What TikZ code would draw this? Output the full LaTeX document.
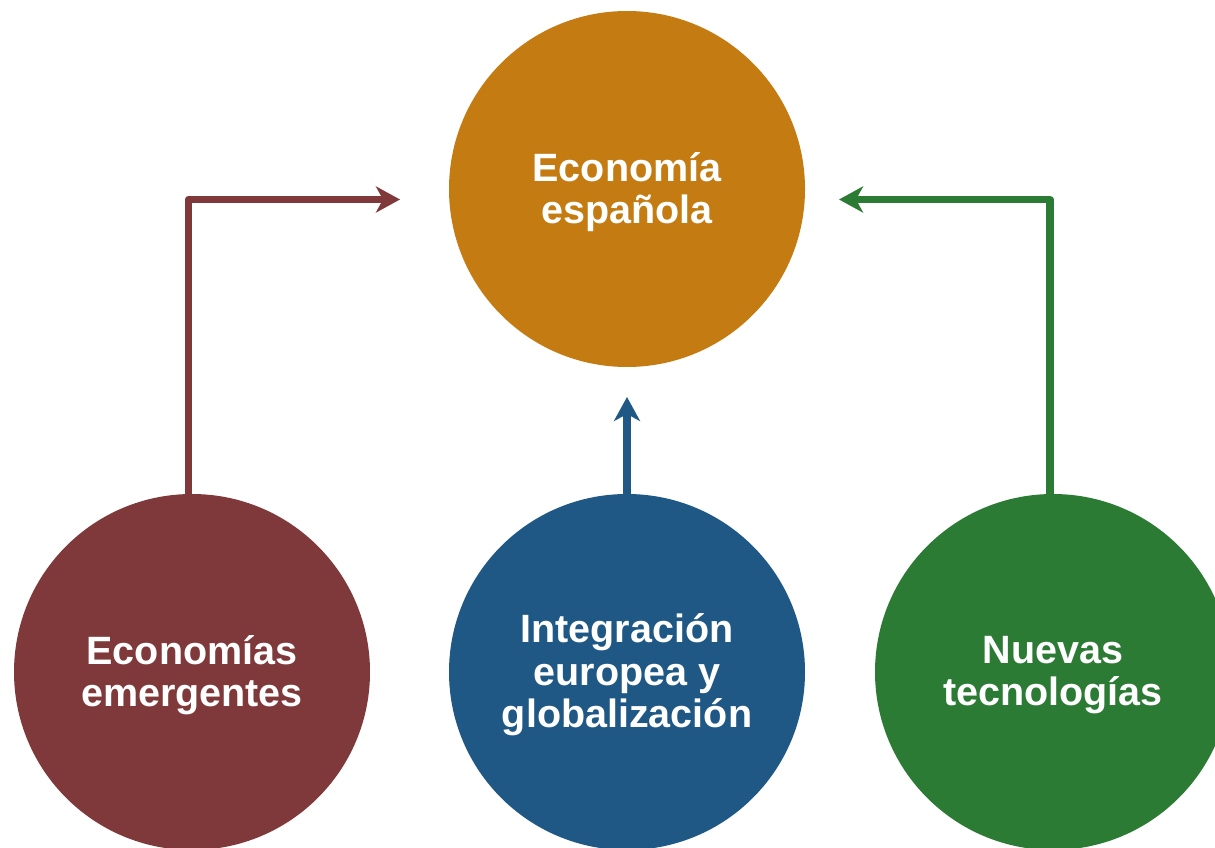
\documentclass[tikz,border=0pt]{standalone}
\usepackage{fontspec}
\setmainfont{Liberation Sans}
\usetikzlibrary{arrows.meta}
\definecolor{corange}{HTML}{C47C12}
\definecolor{cmaroon}{HTML}{7F393A}
\definecolor{cblue}{HTML}{1F5785}
\definecolor{cgreen}{HTML}{2C7B35}
\begin{document}
\begin{tikzpicture}[x=1pt,y=-1pt,
  bubble/.style={circle,minimum size=356pt,inner sep=0pt,fill=#1},
  caption/.style={text=white,font=\fontsize{39.5}{42.5}\selectfont\bfseries,
    align=center,inner sep=0pt},
  link/.style={draw=#1,line width=7.5pt,line join=round,
    -{Stealth[length=24pt,width=26pt,inset=7pt]}}]
\useasboundingbox (0,0) rectangle (1215,848);
\clip (0,0) rectangle (1215,848);
\node[bubble=corange] (esp) at (627,189) {};
\node[bubble=cmaroon] (eme) at (192,672) {};
\node[bubble=cblue] (int) at (627,672) {};
\node[bubble=cgreen] (nue) at (1053,672) {};
\node[caption] (tesp) at ([yshift=-3pt]esp.center) {Economía\\española};
\node[caption] (teme) at ([yshift=-3pt]eme.center) {Economías\\emergentes};
\node[caption] (tint) at ([yshift=-3pt]int.center) {Integración\\europea y\\globalización};
\node[caption] (tnue) at ([yshift=-3pt]nue.center) {Nuevas\\tecnologías};
\coordinate (tl) at (400,199.5);
\coordinate (tm) at (627,397);
\coordinate (tr) at (839,199.5);
\draw[link=cmaroon] (188.5,494) |- (tl);
\draw[link=cblue] (int.north) -- (tm);
\draw[link=cgreen] (1050,494) |- (tr);
\end{tikzpicture}
\end{document}
